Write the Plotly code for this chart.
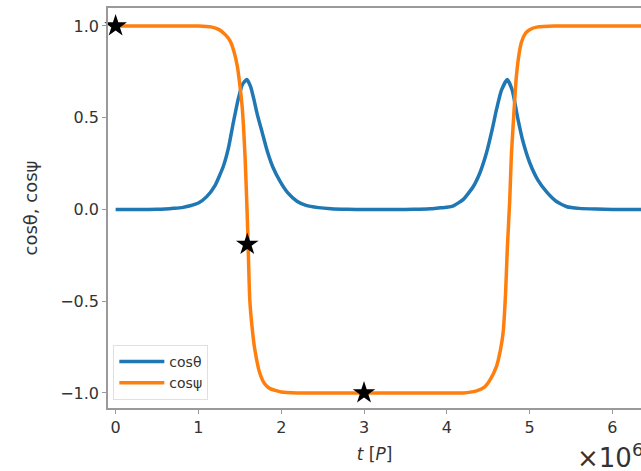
import plotly.graph_objects as go

# cos(theta) (t in units of 1e6 P)
t_theta = [0.0, 0.3, 0.5, 0.6, 0.7, 0.8, 0.9, 1.0, 1.1, 1.2, 1.3, 1.36, 1.42, 1.48, 1.53, 1.583,
           1.63, 1.67, 1.71, 1.77, 1.83, 1.9, 1.99, 2.08, 2.19, 2.3, 2.45, 2.6, 2.8, 3.0, 3.2,
           3.4, 3.6, 3.8, 3.9, 4.0, 4.08, 4.2, 4.32, 4.4, 4.48, 4.55, 4.6, 4.66, 4.73, 4.79,
           4.86, 4.92, 5.0, 5.1, 5.21, 5.32, 5.45, 5.6, 5.8, 6.0, 6.2, 6.4]
cos_theta = [0.0, 0.0, 0.001, 0.003, 0.006, 0.01, 0.02, 0.035, 0.07, 0.13, 0.234, 0.33, 0.47, 0.6,
             0.68, 0.708, 0.67, 0.6, 0.52, 0.42, 0.32, 0.23, 0.15, 0.09, 0.045, 0.022, 0.01, 0.004,
             0.001, 0.0, 0.0, 0.0, 0.001, 0.004, 0.008, 0.012, 0.02, 0.055, 0.125, 0.2, 0.31, 0.44,
             0.545, 0.65, 0.708, 0.65, 0.49, 0.37, 0.256, 0.16, 0.093, 0.045, 0.015, 0.006, 0.002,
             0.0, 0.0, 0.0]

# cos(psi)
t_psi = [0.0, 0.5, 1.0, 1.15, 1.25, 1.33, 1.38, 1.43, 1.47, 1.5, 1.53, 1.565, 1.59, 1.6, 1.62,
         1.65, 1.68, 1.74, 1.8, 1.86, 2.0, 2.2, 2.6, 3.0, 3.4, 3.8, 4.2, 4.35, 4.45, 4.52, 4.6,
         4.65, 4.68, 4.71, 4.73, 4.76, 4.78, 4.8, 4.82, 4.84, 4.87, 4.9, 4.95, 5.0, 5.1, 5.3,
         5.6, 6.0, 6.4]
cos_psi = [1.0, 1.0, 1.0, 0.995, 0.98, 0.95, 0.92, 0.86, 0.78, 0.68, 0.55, 0.27, -0.04, -0.19, -0.49,
           -0.65, -0.76, -0.89, -0.95, -0.975, -0.995, -1.0, -1.0, -1.0, -1.0, -1.0, -1.0, -0.99, -0.97,
           -0.93, -0.855, -0.76, -0.67, -0.45, -0.22, 0.054, 0.3, 0.45, 0.6, 0.725, 0.84, 0.91, 0.96,
           0.98, 0.995, 1.0, 1.0, 1.0, 1.0]

# star markers
t_star = [0.0, 1.59, 3.0]
v_star = [1.0, -0.19, -1.0]

x_ticks = [0, 1, 2, 3, 4, 5, 6]
y_ticks = [-1.0, -0.5, 0.0, 0.5, 1.0]

fig = go.Figure()
fig.add_trace(go.Scatter(x=t_theta, y=cos_theta, mode="lines", name="cosθ",
                         line=dict(color="#1f77b4", width=3.5, shape="spline", smoothing=0.5)))
fig.add_trace(go.Scatter(x=t_psi, y=cos_psi, mode="lines", name="cosψ",
                         line=dict(color="#ff7f0e", width=3.5, shape="spline", smoothing=0.5)))
fig.add_trace(go.Scatter(x=t_star, y=v_star, mode="markers", showlegend=False,
                         marker=dict(symbol="star", size=17, color="black"), cliponaxis=False))

axis_common = dict(showgrid=False, zeroline=False, showline=True, linecolor="#9a9a9a",
                   linewidth=1.5, ticks="outside", ticklen=4, tickcolor="#9a9a9a",
                   tickfont=dict(size=16, color="#333333"))

fig.update_layout(
    width=641, height=471,
    margin=dict(l=108, r=0, t=8, b=63),
    paper_bgcolor="white", plot_bgcolor="white",
    font=dict(family="DejaVu Sans", color="#333333"),
    xaxis=dict(range=[-0.092, 6.345], tickvals=x_ticks, mirror=True,
               title=dict(text="<i>t</i> [<i>P</i>]", font=dict(size=17), standoff=12),
               **axis_common),
    yaxis=dict(range=[-1.082, 1.098], tickvals=y_ticks, tickformat=".1f",
               title=dict(text="cosθ, cosψ", font=dict(size=18), standoff=18),
               **axis_common),
    legend=dict(x=0.01, y=0.02, xanchor="left", yanchor="bottom",
                bgcolor="rgba(255,255,255,0.8)", bordercolor="#e0e0e0", borderwidth=1,
                font=dict(size=14), itemwidth=45, tracegroupgap=2),
    showlegend=True,
)
fig.add_annotation(text="×10<sup>6</sup>", xref="paper", yref="paper",
                   x=(575 - 108) / 533, y=-0.12, xanchor="left", yanchor="middle",
                   showarrow=False, font=dict(size=26, color="#333333"))

fig.write_html("out.html")
